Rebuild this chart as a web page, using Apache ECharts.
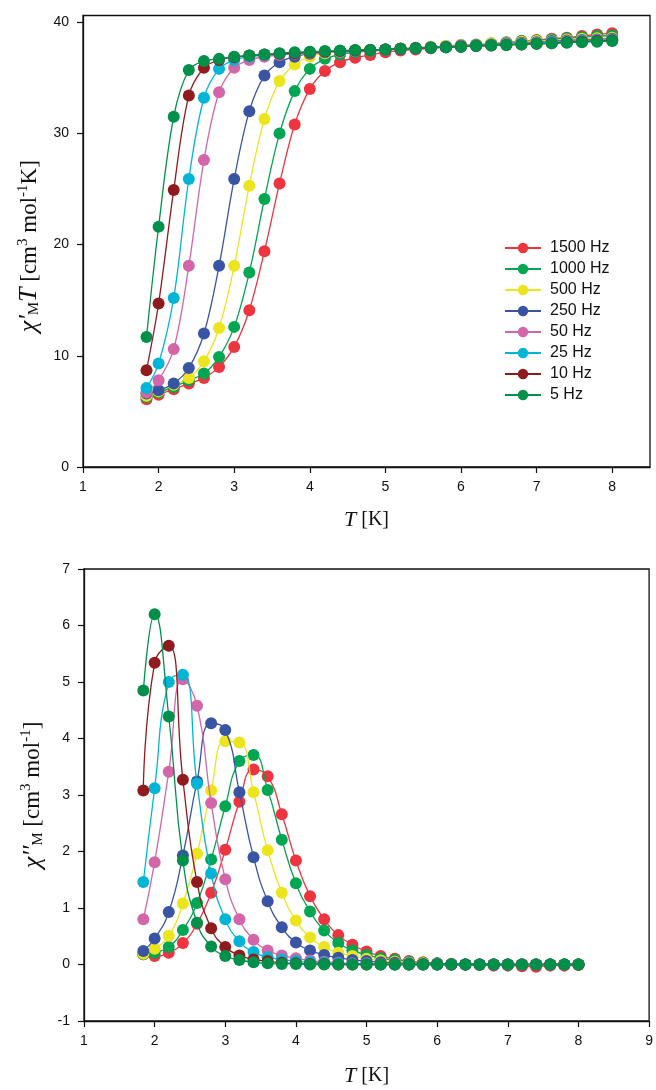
<!DOCTYPE html>
<html><head><meta charset="utf-8">
<script src="https://cdn.jsdelivr.net/npm/echarts@6/dist/echarts.min.js"></script>
<style>html,body{margin:0;padding:0;background:#fff}#c{width:656px;height:1090px}</style>
</head><body><div id="c"></div>
<script>
// ---- data ----
const temperatures = [1.84,2.0,2.2,2.4,2.6,2.8,3.0,3.2,3.4,3.6,3.8,4.0,4.2,4.4,4.6,4.8,5.0,5.2,5.4,5.6,5.8,6.0,6.2,6.4,6.6,6.8,7.0,7.2,7.4,7.6,7.8,8.0];
const frequencies = ['1500 Hz','1000 Hz','500 Hz','250 Hz','50 Hz','25 Hz','10 Hz','5 Hz'];

// chi'_M T  [cm3 mol-1 K]
const chiT_1500 = [6.1,6.5,7.0,7.5,8.0,9.0,10.8,14.1,19.4,25.5,30.8,34.0,35.6,36.4,36.8,37.05,37.3,37.45,37.55,37.65,37.75,37.85,37.95,38.05,38.15,38.3,38.4,38.5,38.6,38.75,38.9,39.0];
const chiT_1000 = [6.3,6.7,7.2,7.8,8.4,9.9,12.6,17.5,24.1,30.0,33.8,35.8,36.7,37.1,37.3,37.4,37.5,37.6,37.65,37.75,37.85,37.95,38.0,38.1,38.2,38.3,38.35,38.45,38.55,38.65,38.75,38.8];
const chiT_500  = [6.4,6.8,7.4,8.0,9.5,12.5,18.1,25.3,31.3,34.7,36.2,36.9,37.2,37.35,37.45,37.5,37.55,37.65,37.7,37.8,37.85,37.95,38.0,38.1,38.15,38.25,38.3,38.35,38.45,38.5,38.55,38.6];
const chiT_250  = [6.6,6.9,7.5,8.9,12.0,18.1,25.9,32.0,35.2,36.4,36.9,37.15,37.3,37.4,37.45,37.5,37.55,37.6,37.7,37.75,37.8,37.9,37.95,38.0,38.1,38.15,38.2,38.3,38.35,38.4,38.45,38.5];
const chiT_50   = [6.7,7.8,10.6,18.1,27.6,33.7,35.9,36.6,36.9,37.05,37.15,37.25,37.3,37.35,37.4,37.5,37.55,37.6,37.65,37.7,37.8,37.85,37.9,37.95,38.05,38.1,38.15,38.25,38.3,38.35,38.4,38.45];
const chiT_25   = [7.1,9.3,15.2,25.9,33.2,35.8,36.6,36.9,37.05,37.15,37.2,37.3,37.35,37.4,37.45,37.5,37.55,37.6,37.65,37.7,37.75,37.8,37.9,37.95,38.0,38.05,38.1,38.2,38.25,38.3,38.35,38.4];
const chiT_10   = [8.7,14.7,24.9,33.4,35.9,36.6,36.85,37.0,37.1,37.15,37.2,37.3,37.35,37.4,37.45,37.5,37.55,37.6,37.65,37.7,37.75,37.8,37.85,37.9,37.95,38.0,38.05,38.1,38.2,38.25,38.3,38.35];
const chiT_5    = [11.7,21.6,31.5,35.7,36.5,36.7,36.9,37.0,37.1,37.2,37.3,37.35,37.4,37.45,37.5,37.5,37.55,37.6,37.65,37.7,37.75,37.8,37.85,37.9,37.95,38.0,38.05,38.1,38.15,38.2,38.25,38.3];

// chi''_M  [cm3 mol-1]
const chi2_1500 = [0.18,0.15,0.21,0.38,0.72,1.27,2.03,2.88,3.45,3.33,2.66,1.84,1.21,0.80,0.52,0.35,0.23,0.15,0.10,0.06,0.04,0.02,0.01,0.0,-0.01,-0.02,-0.02,-0.03,-0.04,-0.02,-0.02,-0.01];
const chi2_1000 = [0.18,0.21,0.31,0.61,1.09,1.86,2.80,3.60,3.71,3.09,2.21,1.44,0.94,0.60,0.38,0.25,0.17,0.11,0.08,0.05,0.03,0.02,0.01,0.0,0.0,0.0,-0.01,0.0,0.0,0.0,0.0,0.0];
const chi2_500  = [0.19,0.28,0.51,1.08,1.96,3.08,3.95,3.93,3.05,2.02,1.27,0.78,0.48,0.31,0.21,0.15,0.10,0.07,0.05,0.03,0.02,0.01,0.0,0.0,0.0,0.0,0.0,0.0,0.0,0.0,0.0,0.0];
const chi2_250  = [0.24,0.46,0.93,1.93,3.24,4.27,4.15,3.05,1.90,1.12,0.66,0.39,0.25,0.17,0.12,0.08,0.06,0.04,0.03,0.02,0.01,0.01,0.0,0.0,0.0,0.0,0.0,0.0,0.0,0.0,0.0,0.0];
const chi2_50   = [0.80,1.81,3.41,5.05,4.58,2.86,1.51,0.80,0.44,0.25,0.16,0.11,0.07,0.05,0.03,0.02,0.02,0.01,0.01,0.0,0.0,0.0,0.0,0.0,0.0,0.0,0.0,0.0,0.0,0.0,0.0,0.0];
const chi2_25   = [1.46,3.12,5.00,5.13,3.20,1.61,0.80,0.41,0.22,0.13,0.09,0.06,0.04,0.03,0.02,0.01,0.01,0.0,0.0,0.0,0.0,0.0,0.0,0.0,0.0,0.0,0.0,0.0,0.0,0.0,0.0,0.0];
const chi2_10   = [3.08,5.34,5.64,3.27,1.46,0.64,0.31,0.16,0.09,0.06,0.03,0.02,0.01,0.01,0.0,0.0,0.0,0.0,0.0,0.0,0.0,0.0,0.0,0.0,0.0,0.0,0.0,0.0,0.0,0.0,0.0,0.0];
const chi2_5    = [4.85,6.20,4.39,1.84,0.74,0.32,0.15,0.08,0.04,0.02,0.01,0.01,0.0,0.0,0.0,0.0,0.0,0.0,0.0,0.0,0.0,0.0,0.0,0.0,0.0,0.0,0.0,0.0,0.0,0.0,0.0,0.0];

const topXTicks = [1,2,3,4,5,6,7,8];
const topYTicks = [0,10,20,30,40];
const bottomXTicks = [1,2,3,4,5,6,7,8,9];
const bottomYTicks = [-1,0,1,2,3,4,5,6,7];

// ---- styles ----
const seriesColors = ['#ee343f','#00a651','#ece41c','#3a54a4','#d266a9','#00b5d5','#8f1b1e','#009049'];
const topSets = [chiT_1500,chiT_1000,chiT_500,chiT_250,chiT_50,chiT_25,chiT_10,chiT_5];
const botSets = [chi2_1500,chi2_1000,chi2_500,chi2_250,chi2_50,chi2_25,chi2_10,chi2_5];

const tickFont = {fontFamily:'Liberation Sans, Arial, sans-serif', fontSize:14, color:'#111'};
const serif = 'Liberation Serif, Times New Roman, serif';
const richX = {
  i:{fontFamily:serif, fontStyle:'italic', fontSize:22, color:'#111'},
  n:{fontFamily:serif, fontSize:20, color:'#111'}
};
const richY = {
  i:{fontFamily:serif, fontStyle:'italic', fontSize:26, color:'#111'},
  n:{fontFamily:serif, fontSize:23, color:'#111'},
  sub:{fontFamily:serif, fontSize:15, color:'#111', padding:[10,0,0,0]},
  sup:{fontFamily:serif, fontSize:15, color:'#111', padding:[0,0,13,0]}
};

function axisCommon(){
  return {
    axisLine:{onZero:false, lineStyle:{color:'#111', width:1.3}},
    splitLine:{show:false}
  };
}

function makeSeries(sets, idx, smooth){
  return sets.map((vals, k) => ({
    name: frequencies[k],
    type:'line',
    xAxisIndex: idx, yAxisIndex: idx,
    data: temperatures.map((t, j) => [t, vals[j]]),
    smooth: smooth,
    symbol:'circle',
    symbolSize: 12,
    showSymbol: true,
    lineStyle:{color: seriesColors[k], width:1.3},
    itemStyle:{color: seriesColors[k]},
    emphasis:{disabled:true},
    z: 2 + k
  }));
}

const chart = echarts.init(document.getElementById('c'), null, {renderer:'canvas'});
chart.setOption({
  animation:false,
  backgroundColor:'#fff',
  grid:[
    {left:83, right:6, top:15.5, bottom:623, show:true, borderColor:'#111', borderWidth:1.3, containLabel:false},
    {left:84, right:3, top:569, bottom:69, show:true, borderColor:'#111', borderWidth:1.3, containLabel:false}
  ],
  legend:{
    data: frequencies,
    orient:'vertical',
    left:499, top:235,
    itemWidth:36, itemHeight:13, itemGap:5,
    textStyle:{fontFamily:'Liberation Sans, Arial, sans-serif', fontSize:16, color:'#111', padding:[0,0,0,4]},
    selectedMode:false
  },
  xAxis:[
    Object.assign(axisCommon(), {
      gridIndex:0, type:'value', min:1, max:8.5,
      axisTick:{length:6, lineStyle:{color:'#111', width:1.2}, customValues: topXTicks},
      axisLabel:Object.assign({margin:13, customValues: topXTicks}, tickFont),
      name:'{i|T}{n| [K]}', nameLocation:'middle', nameGap:42,
      nameTextStyle:{rich: richX}
    }),
    Object.assign(axisCommon(), {
      gridIndex:1, type:'value', min:1, max:9, interval:1,
      axisTick:{length:6, lineStyle:{color:'#111', width:1.2}, customValues: bottomXTicks},
      axisLabel:Object.assign({margin:13, customValues: bottomXTicks}, tickFont),
      name:'{i|T}{n| [K]}', nameLocation:'middle', nameGap:44,
      nameTextStyle:{rich: richX}
    })
  ],
  yAxis:[
    Object.assign(axisCommon(), {
      gridIndex:0, type:'value', min:0, max:40.6,
      axisTick:{length:6, lineStyle:{color:'#111', width:1.2}, customValues: topYTicks},
      axisLabel:Object.assign({margin:14, customValues: topYTicks}, tickFont),
      name:"{i|χ'}{sub|M}{i|T}{n| [cm}{sup|3}{n| mol}{sup|-1}{n|K]}",
      nameLocation:'middle', nameGap:37, nameRotate:90,
      nameTextStyle:{rich: richY, padding:[0,10,0,0]}
    }),
    Object.assign(axisCommon(), {
      gridIndex:1, type:'value', min:-1, max:7, interval:1,
      axisTick:{length:6, lineStyle:{color:'#111', width:1.2}, customValues: bottomYTicks},
      axisLabel:Object.assign({margin:14, customValues: bottomYTicks}, tickFont),
      name:"{i|χ''}{sub|M}{n| [cm}{sup|3}{n| mol}{sup|-1}{n|]}",
      nameLocation:'middle', nameGap:37, nameRotate:90,
      nameTextStyle:{rich: richY}
    })
  ],
  series: makeSeries(topSets, 0, 0.35).concat(makeSeries(botSets, 1, 0.5))
});
</script>
</body></html>
